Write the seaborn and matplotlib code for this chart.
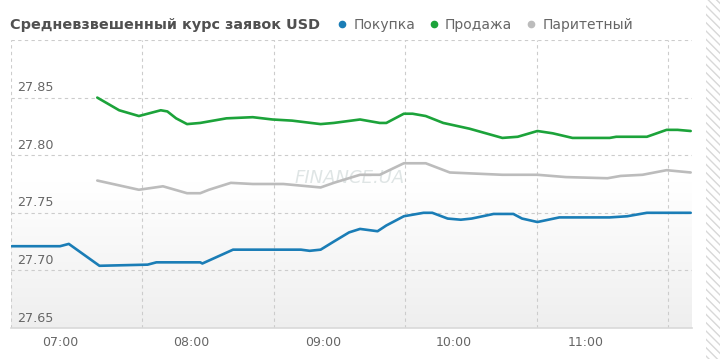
import numpy as np
import pandas as pd
import matplotlib
matplotlib.use("Agg")
import matplotlib.pyplot as plt
import seaborn as sns
from matplotlib.lines import Line2D
from matplotlib.patches import Rectangle
from matplotlib.ticker import FixedLocator, NullFormatter

# --- data ---
buy_times = ["06:38", "07:00", "07:04", "07:18", "07:40", "07:44", "08:04", "08:05",
             "08:19", "08:22", "08:50", "08:54", "08:59", "09:05", "09:12", "09:17",
             "09:25", "09:29", "09:37", "09:46", "09:50", "09:57", "10:03", "10:08",
             "10:18", "10:27", "10:31", "10:38", "10:48", "11:11", "11:19", "11:28",
             "11:34", "11:48"]
buy_rates = [27.721, 27.721, 27.723, 27.704, 27.705, 27.707, 27.707, 27.706,
             27.718, 27.718, 27.718, 27.717, 27.718, 27.725, 27.733, 27.736,
             27.734, 27.739, 27.747, 27.750, 27.750, 27.745, 27.744, 27.745,
             27.749, 27.749, 27.745, 27.742, 27.746, 27.746, 27.747, 27.750,
             27.750, 27.750]

sell_times = ["07:17", "07:27", "07:36", "07:46", "07:49", "07:53", "07:58", "08:04",
              "08:16", "08:28", "08:37", "08:46", "08:59", "09:05", "09:17", "09:26",
              "09:29", "09:37", "09:41", "09:47", "09:55", "10:07", "10:22", "10:29",
              "10:38", "10:45", "10:54", "11:11", "11:14", "11:28", "11:37", "11:42",
              "11:48"]
sell_rates = [27.850, 27.839, 27.834, 27.839, 27.838, 27.832, 27.827, 27.828,
              27.832, 27.833, 27.831, 27.830, 27.827, 27.828, 27.831, 27.828,
              27.828, 27.836, 27.836, 27.834, 27.828, 27.823, 27.815, 27.816,
              27.821, 27.819, 27.815, 27.815, 27.816, 27.816, 27.822, 27.822,
              27.821]

par_times = ["07:17", "07:36", "07:47", "07:58", "08:04", "08:08", "08:18", "08:28",
             "08:42", "08:59", "09:05", "09:17", "09:26", "09:37", "09:47", "09:58",
             "10:10", "10:22", "10:38", "10:51", "11:10", "11:16", "11:26", "11:37",
             "11:48"]
par_rates = [27.778, 27.770, 27.773, 27.767, 27.767, 27.770, 27.776, 27.775,
             27.775, 27.772, 27.776, 27.783, 27.783, 27.793, 27.793, 27.785,
             27.784, 27.783, 27.783, 27.781, 27.780, 27.782, 27.783, 27.787,
             27.785]

series_names = ["Покупка", "Продажа", "Паритетный"]
series_colors = ["#1a7db6", "#1ca33a", "#bcbcbc"]
hour_labels = ["07:00", "08:00", "09:00", "10:00", "11:00"]
rate_ticks = [27.65, 27.70, 27.75, 27.80, 27.85]
title_text = "Средневзвешенный курс заявок USD"


def to_minutes(hhmm):
    h, m = hhmm.split(":")
    return int(h) * 60 + int(m)


frames = []
for name, times, rates in [(series_names[0], buy_times, buy_rates),
                           (series_names[1], sell_times, sell_rates),
                           (series_names[2], par_times, par_rates)]:
    frames.append(pd.DataFrame({"minute": [to_minutes(t) for t in times],
                                "rate": rates, "series": name}))
df = pd.concat(frames, ignore_index=True)

sns.set_style("white")
plt.rcParams["font.family"] = ["DejaVu Sans"]

fig = plt.figure(figsize=(7.2, 3.59), dpi=100)
ax = fig.add_axes([11 / 720, 31 / 359, 681 / 720, 288 / 359])

x_min, x_max = 397.6, 708.6
y_min, y_max = 27.65, 27.90

# soft vertical gradient background
grad = np.linspace(0, 1, 256).reshape(-1, 1)
grad = np.clip(grad / 0.5, 0, 1)  # grey at bottom -> white at half height
shade = 0.935 + 0.065 * grad
img = np.dstack([shade, shade, shade])
ax.imshow(img, extent=[0, 1, 0, 1], transform=ax.transAxes, origin="lower",
          aspect="auto", zorder=0, interpolation="bicubic")

# watermark
ax.text(0.498, 0.52, "FINANCE.UA", transform=ax.transAxes, ha="center", va="center",
        fontsize=13, style="italic", color="#dfe5e5", zorder=1)

palette = dict(zip(series_names, series_colors))
sns.lineplot(data=df, x="minute", y="rate", hue="series", palette=palette,
             linewidth=1.9, legend=False, ax=ax, zorder=3)

ax.set_xlim(x_min, x_max)
ax.set_ylim(y_min, y_max)
ax.set_xlabel("")
ax.set_ylabel("")

# x axis: labels at the hours, grid lines offset between them
hour_pos = [to_minutes(h) for h in hour_labels]
ax.set_xticks(hour_pos)
ax.set_xticklabels(hour_labels)
grid_pos = [p - 22.4 for p in hour_pos] + [hour_pos[-1] + 37.6]
ax.xaxis.set_minor_locator(FixedLocator(grid_pos))
ax.xaxis.set_minor_formatter(NullFormatter())
ax.tick_params(axis="x", which="major", length=0, pad=6, labelsize=9,
               labelcolor="#666666")
ax.tick_params(axis="x", which="minor", length=6, color="#cccccc", width=0.8,
               direction="out")
ax.grid(True, axis="x", which="minor", color="#cccccc", linestyle=(0, (3, 3)),
        linewidth=0.8)

# y axis: dashed grid, labels drawn inside the plot above each line
ax.set_yticks(rate_ticks + [y_max])
ax.set_yticklabels([])
ax.tick_params(axis="y", length=0)
ax.grid(True, axis="y", which="major", color="#cccccc", linestyle=(0, (3, 3)),
        linewidth=0.8)
for v in rate_ticks:
    ax.annotate(f"{v:.2f}", xy=(0, v), xycoords=("axes fraction", "data"),
                xytext=(4.5, 2.5), textcoords="offset points", ha="left",
                va="bottom", fontsize=9.2, color="#666666", zorder=4)
ax.set_axisbelow(True)

for side in ["top", "right", "left"]:
    ax.spines[side].set_visible(False)
ax.spines["bottom"].set_color("#d9d9d9")
ax.spines["bottom"].set_linewidth(1.2)

# title and legend
fig.text(10 / 720, 1 - 25 / 359, title_text, ha="left", va="center",
         fontsize=10.4, fontweight="bold", color="#505050")
handles = [Line2D([], [], marker="o", linestyle="none", markersize=4.5,
                  markerfacecolor=c, markeredgecolor=c) for c in series_colors]
fig.legend(handles, series_names, loc="center left",
           bbox_to_anchor=(338 / 720, 1 - 25 / 359), ncol=3, frameon=False,
           handlelength=0.6, handletextpad=0.5, columnspacing=1.05,
           fontsize=10, labelcolor="#666666", borderaxespad=0, borderpad=0)

# hatched strip on the right edge
fig.patches.append(Rectangle((706 / 720, 0), 14 / 720, 1, transform=fig.transFigure,
                             fill=False, hatch="\\\\\\\\", edgecolor="#d8d8d8",
                             linewidth=0, figure=fig))

fig.savefig("out.png", dpi=100)
